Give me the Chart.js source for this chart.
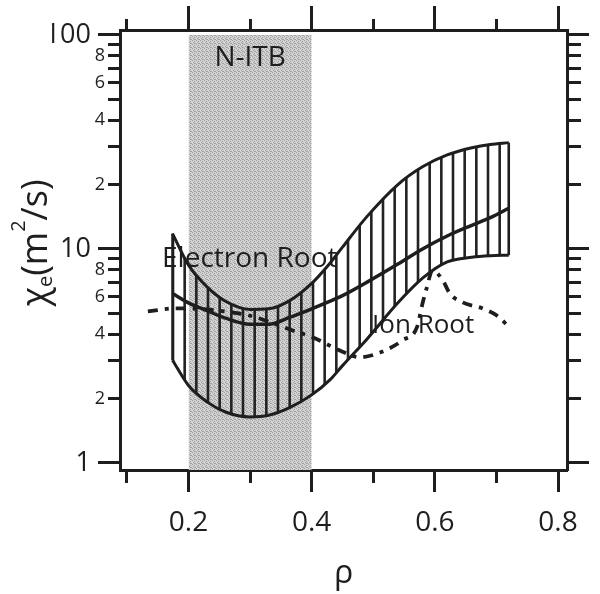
<!DOCTYPE html>
<html>
<head>
<meta charset="utf-8">
<script src="https://cdn.jsdelivr.net/npm/chart.js@4.4.1/dist/chart.umd.min.js"></script>
<style>
  html, body { margin: 0; padding: 0; background: #fff; }
</style>
</head>
<body>
<canvas id="myChart" width="600" height="594"></canvas>
<script>
// band (electron root) at these rho positions
var bandRho = [0.174, 0.2, 0.23, 0.26, 0.3, 0.33, 0.365, 0.4, 0.43, 0.45, 0.49, 0.54, 0.58, 0.62, 0.66, 0.69, 0.72];
var upperChi = [11.8, 8.4, 6.65, 5.7, 5.22, 5.25, 5.75, 6.9, 8.6, 10.2, 14.2, 20.0, 24.2, 27.5, 29.7, 30.8, 31.4];
var electronChi = [6.2, 5.6, 5.15, 4.75, 4.45, 4.45, 4.8, 5.25, 5.7, 6.05, 7.0, 8.5, 10.0, 11.5, 12.9, 14.0, 15.5];
var lowerChi = [3.02, 2.3, 1.93, 1.73, 1.64, 1.67, 1.82, 2.08, 2.45, 2.85, 3.8, 5.6, 7.3, 8.7, 9.15, 9.3, 9.35];

// ion root (dashed)
var ionRho = [0.134, 0.181, 0.228, 0.258, 0.297, 0.368, 0.405, 0.444, 0.478, 0.512, 0.548, 0.571, 0.58, 0.587, 0.596, 0.613, 0.624, 0.645, 0.677, 0.7, 0.721];
var ionChi = [5.11, 5.28, 5.22, 5.11, 4.9, 4.17, 3.83, 3.37, 3.12, 3.29, 3.75, 4.31, 5.57, 6.61, 7.94, 7.13, 6.21, 5.63, 5.28, 4.9, 4.31];

// N-ITB shaded region
var itbRange = [0.2, 0.4];
var itbTop = 100;

// axes
var xTicks = [0.1, 0.2, 0.3, 0.4, 0.5, 0.6, 0.7, 0.8];
var xLabeled = [0.2, 0.4, 0.6, 0.8];
var yTicks = [1, 2, 3, 4, 5, 6, 7, 8, 9, 10, 20, 30, 40, 50, 60, 70, 80, 90, 100];
var yMajor = [1, 10, 100];
var yLabeled = [2, 4, 6, 8, 20, 40, 60, 80];

var FONT = '"Open Sans", "Noto Sans", sans-serif';
var INK = '#1e1e1e';

function has(list, v) {
  for (var i = 0; i < list.length; i++) {
    if (Math.abs(list[i] - v) < 1e-6 * Math.max(1, Math.abs(v))) return true;
  }
  return false;
}
function pts(xs, ys) {
  return xs.map(function (x, i) { return { x: x, y: ys[i] }; });
}

var canvas = document.getElementById("myChart");
var ctx = canvas.getContext("2d");

// vertical hatching for the band
function hatchPattern() {
  var c = document.createElement("canvas");
  c.width = 35; c.height = 8;
  var g = c.getContext("2d");
  g.fillStyle = "#222";
  [9.67, 21.33, 33].forEach(function (p) { g.fillRect(p - 1.3, 0, 2.6, 8); });
  return ctx.createPattern(c, "repeat");
}
// dotted grey screen for N-ITB
function stipplePattern() {
  var c = document.createElement("canvas");
  c.width = 4; c.height = 4;
  var g = c.getContext("2d");
  g.fillStyle = "#d2d2d2";
  g.fillRect(0, 0, 4, 4);
  g.fillStyle = "#a0a0a0";
  [[0, 0], [2, 1], [1, 2], [3, 3], [2, 3]].forEach(function (p) { g.fillRect(p[0], p[1], 1, 1); });
  return ctx.createPattern(c, "repeat");
}

var annotate = {
  id: "annotate",
  afterDatasetsDraw: function (chart) {
    var c = chart.ctx, x = chart.scales.x, y = chart.scales.y;
    c.save();
    c.fillStyle = INK;
    c.textBaseline = "alphabetic";
    c.textAlign = "center";
    c.font = "28px " + FONT;
    c.fillText("N-ITB", x.getPixelForValue((itbRange[0] + itbRange[1]) / 2), y.getPixelForValue(72));
    c.textAlign = "left";
    c.font = "28px " + FONT;
    c.fillText("Electron Root", x.getPixelForValue(0.157), y.getPixelForValue(8.24));
    c.font = "26px " + FONT;
    c.fillText("Ion Root", x.getPixelForValue(0.498), y.getPixelForValue(4.05));
    c.restore();
  },
  afterDraw: function (chart) {
    var c = chart.ctx, area = chart.chartArea;
    c.save();
    c.fillStyle = INK;
    // x title
    c.textAlign = "center";
    c.textBaseline = "alphabetic";
    c.font = "32px " + FONT;
    c.fillText("\u03c1", (area.left + area.right) / 2, 583);
    // y title with sub/superscript
    var parts = [
      { t: "\u03c7", size: 36, dy: 0 },
      { t: "e", size: 20, dy: 5 },
      { t: "(m", size: 36, dy: 0 },
      { t: "2", size: 20, dy: -22 },
      { t: "/s)", size: 36, dy: 0 }
    ];
    var total = 0;
    parts.forEach(function (p) {
      c.font = p.size + "px " + FONT;
      p.w = c.measureText(p.t).width;
      total += p.w;
    });
    c.translate(47, 243);
    c.rotate(-Math.PI / 2);
    c.textAlign = "left";
    var pos = -total / 2;
    parts.forEach(function (p) {
      c.font = p.size + "px " + FONT;
      c.fillText(p.t, pos, p.dy);
      pos += p.w;
    });
    c.restore();
  }
};

function tickDash(outerFirst, minorLen) {
  return function (c) {
    if (!c.tick) return [];
    var major = c.scale.axis === "x" ? has(xLabeled, c.tick.value) : has(yMajor, c.tick.value);
    if (major) return [];
    return outerFirst ? [0, 22 - minorLen, 40, 0] : [minorLen, 40];
  };
}

var gridBase = {
  drawOnChartArea: false,
  tickLength: 22,
  tickWidth: 3,
  tickColor: INK
};
var borderBase = { display: true, color: INK, width: 3 };

var myChart = new Chart(ctx, {
  type: "line",
  data: {
    datasets: [
      {
        // 0: N-ITB shade
        data: [{ x: itbRange[0], y: itbTop }, { x: itbRange[1], y: itbTop }],
        borderWidth: 0,
        borderColor: "rgba(0,0,0,0)",
        backgroundColor: stipplePattern(),
        fill: "start",
        pointRadius: 0,
        order: 10
      },
      {
        // 1: lower edge of band
        data: pts(bandRho, lowerChi),
        borderColor: INK,
        borderWidth: 3,
        cubicInterpolationMode: "monotone",
        pointRadius: 0,
        fill: false,
        order: 3
      },
      {
        // 2: upper edge, hatched down to lower
        data: pts(bandRho, upperChi),
        borderColor: INK,
        borderWidth: 3,
        cubicInterpolationMode: "monotone",
        pointRadius: 0,
        fill: 1,
        backgroundColor: hatchPattern(),
        order: 3
      },
      {
        // 3: electron root centre line
        data: pts(bandRho, electronChi),
        borderColor: INK,
        borderWidth: 3.5,
        cubicInterpolationMode: "monotone",
        pointRadius: 0,
        fill: false,
        order: 2
      },
      {
        // 4: band left end
        data: [{ x: bandRho[0], y: lowerChi[0] }, { x: bandRho[0], y: upperChi[0] }],
        borderColor: INK,
        borderWidth: 2.6,
        pointRadius: 0,
        fill: false,
        order: 2
      },
      {
        // 5: band right end
        data: [
          { x: bandRho[bandRho.length - 1], y: lowerChi[lowerChi.length - 1] },
          { x: bandRho[bandRho.length - 1], y: upperChi[upperChi.length - 1] }
        ],
        borderColor: INK,
        borderWidth: 2.6,
        pointRadius: 0,
        fill: false,
        order: 2
      },
      {
        // 6: ion root
        data: pts(ionRho, ionChi),
        borderColor: INK,
        borderWidth: 3.8,
        borderDash: [10, 7, 4, 7],
        cubicInterpolationMode: "monotone",
        pointRadius: 0,
        fill: false,
        order: 1
      }
    ]
  },
  options: {
    responsive: false,
    animation: false,
    layout: { padding: { left: 52, right: 11, top: 6, bottom: 0 } },
    interaction: { mode: null },
    scales: {
      x: {
        type: "linear",
        position: "bottom",
        min: 0.0887,
        max: 0.8146,
        afterBuildTicks: function (axis) { axis.ticks = xTicks.map(function (v) { return { value: v }; }); },
        afterFit: function (axis) { axis.height = 124; },
        grid: Object.assign({}, gridBase, { tickBorderDash: tickDash(false, 11) }),
        border: borderBase,
        ticks: {
          autoSkip: false,
          maxRotation: 0,
          padding: 17,
          color: INK,
          font: { family: FONT, size: 28, lineHeight: 1 },
          callback: function (v) { return has(xLabeled, v) ? String(v) : ""; }
        }
      },
      x2: {
        type: "linear",
        position: "top",
        min: 0.0887,
        max: 0.8146,
        afterBuildTicks: function (axis) { axis.ticks = xTicks.map(function (v) { return { value: v }; }); },
        afterFit: function (axis) { axis.height = 24; },
        grid: Object.assign({}, gridBase, { tickLength: 24, tickBorderDash: function (c) {
          if (!c.tick || has(xLabeled, c.tick.value)) return [];
          return [0, 13, 40, 0];
        } }),
        border: borderBase,
        ticks: { display: false }
      },
      y: {
        type: "logarithmic",
        position: "left",
        min: 0.927,
        max: 105.5,
        afterBuildTicks: function (axis) { axis.ticks = yTicks.map(function (v) { return { value: v }; }); },
        afterFit: function (axis) { axis.width = 68; },
        grid: Object.assign({}, gridBase, { tickBorderDash: tickDash(true, 12) }),
        border: borderBase,
        ticks: {
          autoSkip: false,
          padding: -7,
          color: INK,
          font: function (c) {
            var big = c.tick && has(yMajor, c.tick.value);
            return { family: FONT, size: big ? 27 : 18 };
          },
          callback: function (v) {
            if (has(yMajor, v)) return String(v) + "  ";
            if (has(yLabeled, v)) return String(Math.round(v / Math.pow(10, Math.floor(Math.log10(v) + 1e-9))));
            return "";
          }
        }
      },
      y2: {
        type: "logarithmic",
        position: "right",
        min: 0.927,
        max: 105.5,
        afterBuildTicks: function (axis) { axis.ticks = yTicks.map(function (v) { return { value: v }; }); },
        afterFit: function (axis) { axis.width = 22; },
        grid: Object.assign({}, gridBase, { tickBorderDash: function (c) {
          if (!c.tick || has(yMajor, c.tick.value)) return [];
          return [12, 40];
        } }),
        border: borderBase,
        ticks: { display: false }
      }
    },
    plugins: {
      legend: { display: false },
      tooltip: { enabled: false }
    }
  },
  plugins: [annotate]
});
</script>
</body>
</html>
